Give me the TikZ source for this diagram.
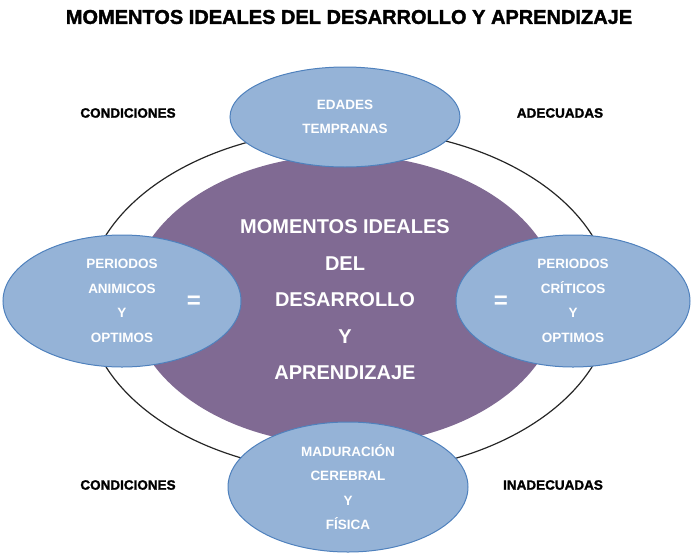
\documentclass[tikz,border=0pt]{standalone}
\usepackage{fontspec}
\setmainfont{Liberation Sans}
\newfontfamily\heavyfont{Liberation Sans}[UprightFont={* Bold}, FakeBold=1.6]
\usetikzlibrary{shapes.geometric}
\definecolor{purplefill}{RGB}{128,106,147}
\definecolor{bluefill}{RGB}{149,179,215}
\definecolor{blueedge}{RGB}{79,129,189}
\tikzset{
  bubble/.style={ellipse, fill=bluefill, draw=blueedge, line width=1pt, inner sep=0pt,
    text=white, align=center, font=\bfseries\fontsize{13.5}{24.5}\selectfont},
  corner/.style={font=\heavyfont\fontsize{13.5}{16}\selectfont, text=black, inner sep=0pt},
  eqsign/.style={font=\bfseries\fontsize{24}{26}\selectfont, text=white, inner sep=0pt}
}
\begin{document}
\begin{tikzpicture}[x=1pt,y=-1pt]
\useasboundingbox (0,0) rectangle (691,552);
\node[font=\heavyfont\fontsize{20}{22}\selectfont, inner sep=0pt] (title) at (349,17) {MOMENTOS IDEALES DEL DESARROLLO Y APRENDIZAJE};
\node[ellipse, draw=black!85, line width=1.2pt, minimum width=526pt, minimum height=344pt, inner sep=0pt] (outer) at (349,301) {};
\node[ellipse, fill=purplefill, minimum width=428pt, minimum height=290pt, inner sep=0pt,
  text=white, align=center, font=\bfseries\fontsize{20}{36.5}\selectfont] (core) at (345,300)
  {MOMENTOS IDEALES\\DEL\\DESARROLLO\\Y\\APRENDIZAJE};
\node[bubble, minimum width=230pt, minimum height=100pt] (top) at (345,117) {EDADES\\TEMPRANAS};
\node[bubble, minimum width=238pt, minimum height=132pt] (left) at (122,301) {PERIODOS\\ANIMICOS\\Y\\OPTIMOS};
\node[bubble, minimum width=234pt, minimum height=132pt] (right) at (573,301) {PERIODOS\\CRÍTICOS\\Y\\OPTIMOS};
\node[bubble, minimum width=240pt, minimum height=130pt] (bottom) at (348,487) {MADURACIÓN\\CEREBRAL\\Y\\FÍSICA};
\node[eqsign] (eqleft) at (194,302) {=};
\node[eqsign] (eqright) at (501,302) {=};
\node[corner] (c1) at (128,113) {CONDICIONES};
\node[corner] (c2) at (560,113) {ADECUADAS};
\node[corner] (c3) at (128,485) {CONDICIONES};
\node[corner] (c4) at (553,485) {INADECUADAS};
\end{tikzpicture}
\end{document}
